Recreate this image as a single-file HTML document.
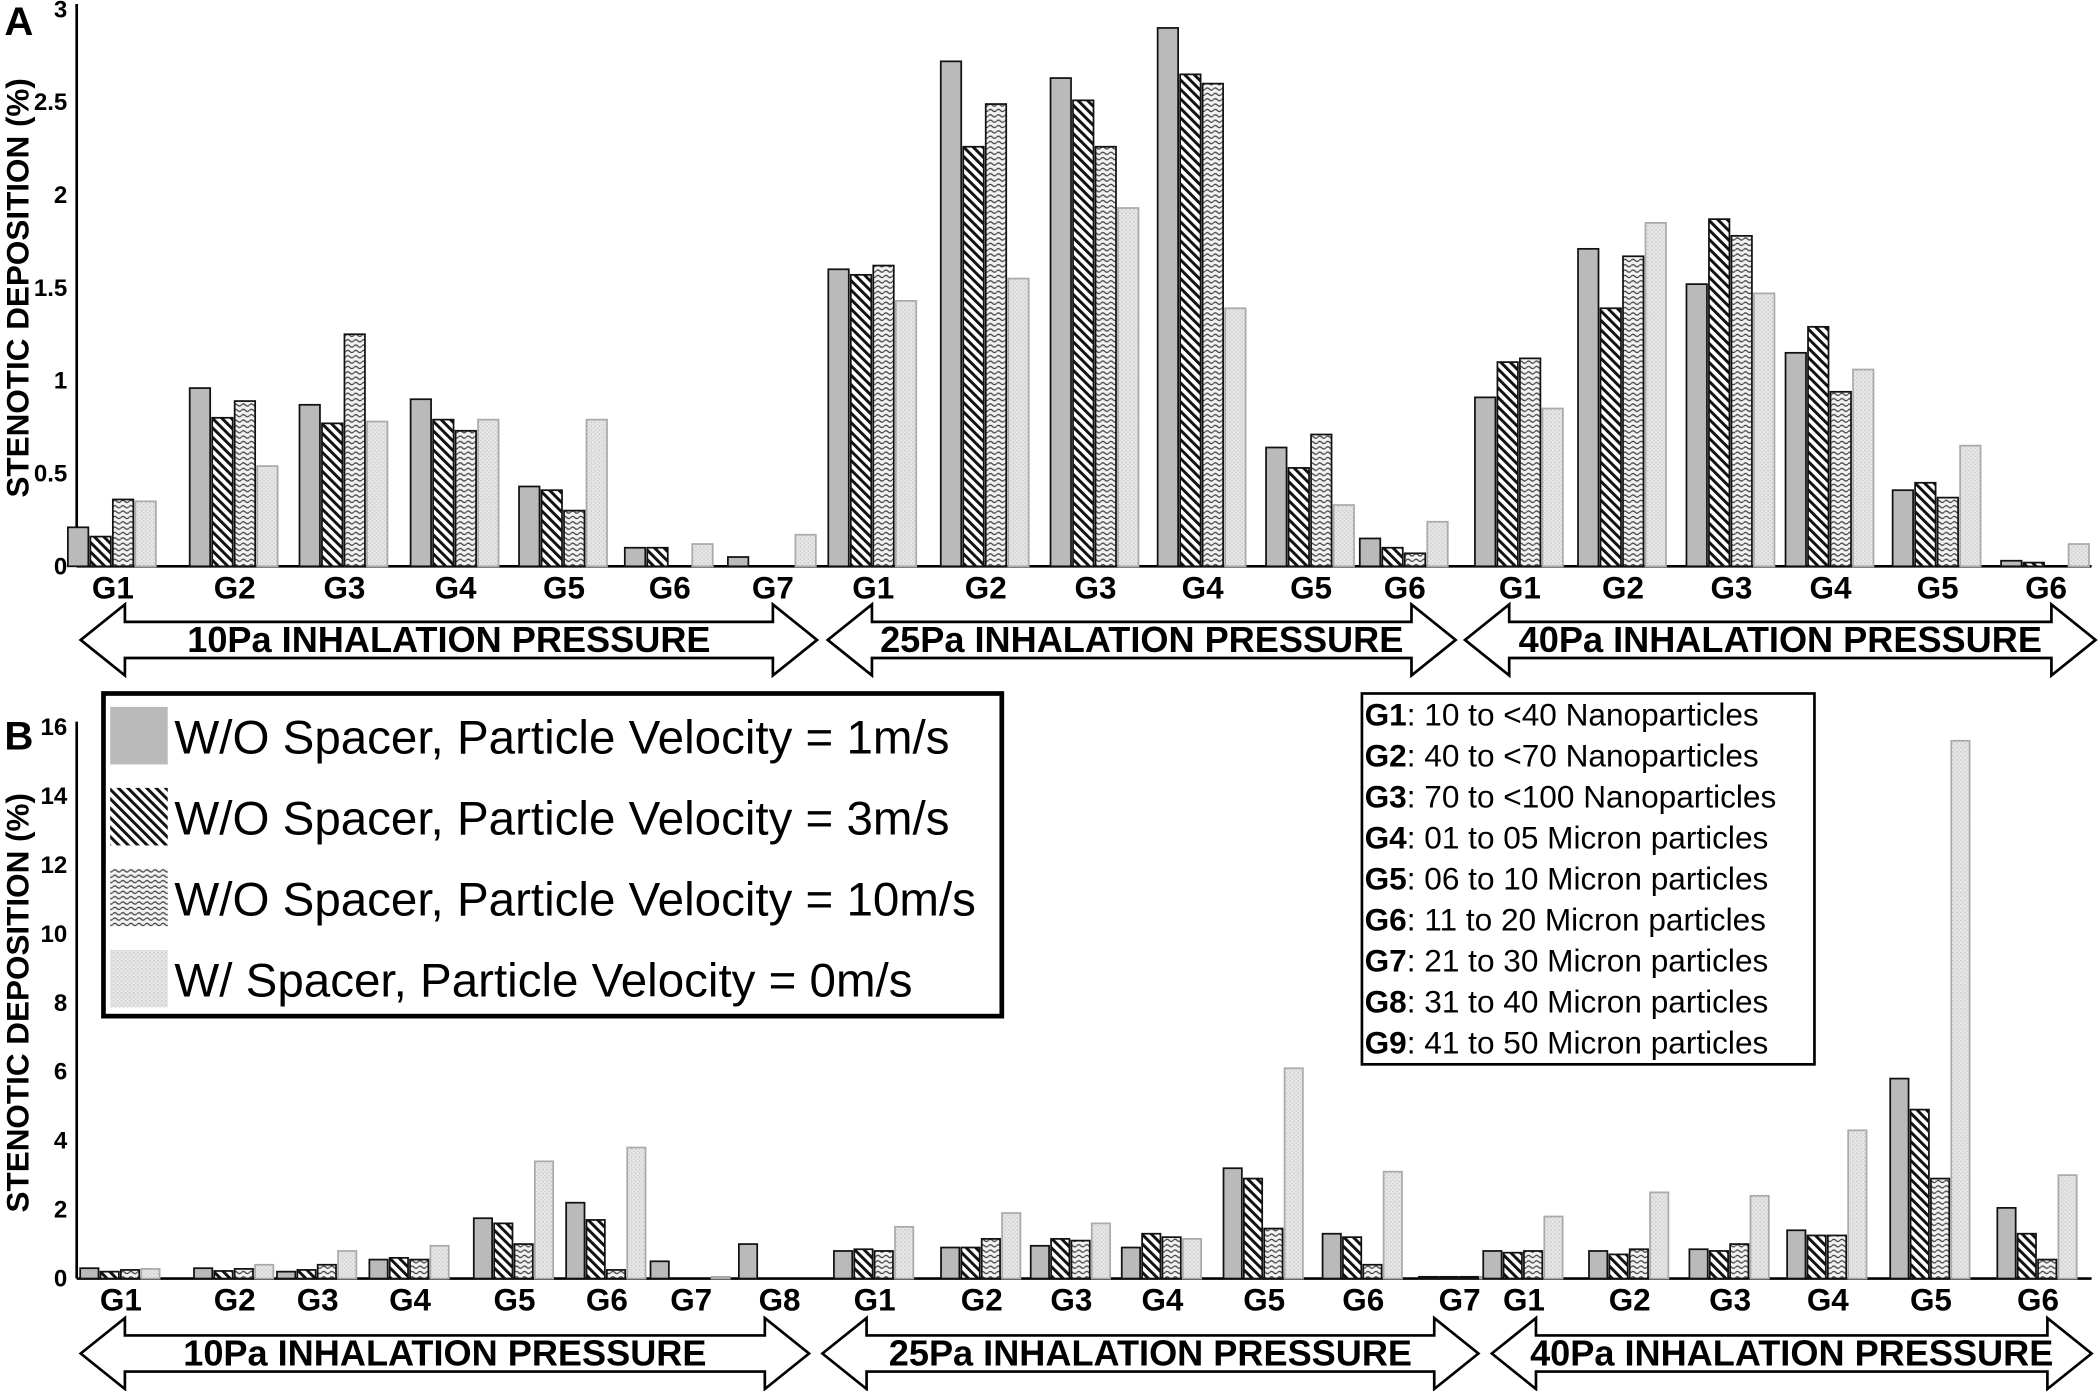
<!DOCTYPE html>
<html><head><meta charset="utf-8"><style>
html,body{margin:0;padding:0;background:#fff}
svg{display:block;font-family:"Liberation Sans",Arial,sans-serif}
</style></head><body>
<svg id="chart" width="2100" height="1391" viewBox="0 0 1568 1039" xmlns="http://www.w3.org/2000/svg">
<defs>
<pattern id="p0" width="4" height="4" patternUnits="userSpaceOnUse"><rect width="4" height="4" fill="#bababa"/></pattern>
<pattern id="p1" width="5" height="5" patternUnits="userSpaceOnUse" patternTransform="rotate(-45)"><rect width="5" height="5" fill="#fff"/><rect width="2.2" height="5" fill="#111"/></pattern>
<pattern id="p2" width="6" height="4" patternUnits="userSpaceOnUse"><rect width="6" height="4" fill="#f2f2f2"/><path d="M0 2.5 Q1.5 0.8 3 2.5 T6 2.5" stroke="#444" stroke-width="1" fill="none"/></pattern>
<pattern id="p3" width="3" height="3" patternUnits="userSpaceOnUse"><rect width="3" height="3" fill="#e6e6e6"/><rect width="1" height="1" fill="#c4c4c4"/><rect x="1.5" y="1.5" width="1" height="1" fill="#cdcdcd"/></pattern>
</defs>
<g id="layer"></g>
</svg>
<script>
// Panel A data
const catsA = ["G1","G2","G3","G4","G5","G6","G7","G1","G2","G3","G4","G5","G6","G1","G2","G3","G4","G5","G6"];
const s1A = [0.21,0.96,0.87,0.90,0.43,0.10,0.05, 1.60,2.72,2.63,2.90,0.64,0.15, 0.91,1.71,1.52,1.15,0.41,0.03];
const s2A = [0.16,0.80,0.77,0.79,0.41,0.10,0.00, 1.57,2.26,2.51,2.65,0.53,0.10, 1.10,1.39,1.87,1.29,0.45,0.02];
const s3A = [0.36,0.89,1.25,0.73,0.30,0.00,0.00, 1.62,2.49,2.26,2.60,0.71,0.07, 1.12,1.67,1.78,0.94,0.37,0.00];
const s4A = [0.35,0.54,0.78,0.79,0.79,0.12,0.17, 1.43,1.55,1.93,1.39,0.33,0.24, 0.85,1.85,1.47,1.06,0.65,0.12];
const ticksA = [0,0.5,1,1.5,2,2.5,3];
const tickLabelsA = ["0","0.5","1","1.5","2","2.5","3"];
// Panel B data
const catsB = ["G1","G2","G3","G4","G5","G6","G7","G8","G1","G2","G3","G4","G5","G6","G7","G1","G2","G3","G4","G5","G6"];
const s1B = [0.30,0.30,0.20,0.55,1.75,2.20,0.50,1.00, 0.80,0.90,0.95,0.90,3.20,1.30,0.05, 0.80,0.80,0.85,1.40,5.80,2.05];
const s2B = [0.20,0.22,0.25,0.60,1.60,1.70,0.00,0.00, 0.85,0.90,1.15,1.30,2.90,1.20,0.05, 0.75,0.70,0.80,1.25,4.90,1.30];
const s3B = [0.25,0.28,0.40,0.55,1.00,0.25,0.00,0.00, 0.80,1.15,1.10,1.20,1.45,0.40,0.05, 0.80,0.85,1.00,1.25,2.90,0.55];
const s4B = [0.28,0.40,0.80,0.95,3.40,3.80,0.05,0.00, 1.50,1.90,1.60,1.15,6.10,3.10,0.05, 1.80,2.50,2.40,4.30,15.6,3.00];
const ticksB = [0,2,4,6,8,10,12,14,16];
const tickLabelsB = ["0","2","4","6","8","10","12","14","16"];
const seriesNames = ["W/O Spacer, Particle Velocity = 1m/s","W/O Spacer, Particle Velocity = 3m/s","W/O Spacer, Particle Velocity = 10m/s","W/ Spacer, Particle Velocity = 0m/s"];
const sizeLegend = ["10 to <40 Nanoparticles","40 to <70 Nanoparticles","70 to <100 Nanoparticles","01 to 05 Micron particles","06 to 10 Micron particles","11 to 20 Micron particles","21 to 30 Micron particles","31 to 40 Micron particles","41 to 50 Micron particles"];

const NS="http://www.w3.org/2000/svg";
const L=document.getElementById('layer');
function mk(t,a,p){const e=document.createElementNS(NS,t);for(const k in a)e.setAttribute(k,a[k]);(p||L).appendChild(e);return e;}

const centersA=[84,175,257,340,421,500,577,652,736,818,898,979,1049,1135,1212,1293,1367,1447,1528];
const centersB=[90,175,237,306,384,453,516,582,653,733,800,868,944,1018,1090,1138,1217,1292,1365,1442,1522];
const fills=["url(#p0)","url(#p1)","url(#p2)","url(#p3)"];
const strokes=["#111","#111","#111","#aaa"];

function panel(opt){
  const yS=v=>opt.y0-(v/opt.max)*(opt.y0-opt.yTop);
  const g=mk('g',{});
  
  
  const ya=mk('line',{x1:57,y1:opt.yTop-4,x2:57,y2:opt.y0,stroke:'#000','stroke-width':2},g);
  
  
  const xa=mk('line',{x1:57,y1:opt.y0,x2:1562,y2:opt.y0,stroke:'#000','stroke-width':2},g);
  
  
  opt.ticks.forEach((t,i)=>{
    const tx=mk('text',{x:50,y:yS(t)+6,'text-anchor':'end','font-size':18,'font-weight':'bold'},g);
    tx.textContent=opt.tickLabels[i];
    
    
  });
  const yt=mk('text',{x:0,y:0,'font-size':23.5,'font-weight':'bold','text-anchor':'middle',transform:`translate(21,${(opt.y0+opt.yTop)/2}) rotate(-90)`},g);
  yt.textContent="STENOTIC DEPOSITION (%)";
  
  
  const ser=[opt.s1,opt.s2,opt.s3,opt.s4];
  opt.cats.forEach((c,i)=>{
    const cx=opt.centers[i];
    ser.forEach((s,k)=>{
      const v=s[i]; if(v<=0) return;
      const x=cx-2*opt.bw+k*opt.bw;
      const r=mk('rect',{x:x,y:yS(v),width:opt.bw-1.5,height:opt.y0-yS(v),fill:fills[k],stroke:strokes[k],'stroke-width':1.3},g);
      
      
    });
    const lb=mk('text',{x:cx,y:opt.y0+24,'text-anchor':'middle','font-size':23.5,'font-weight':'bold'},g);
    lb.textContent=c;
    
    
  });
  opt.arrows.forEach(a=>{
    const [x1,x2]=a; const m=opt.am, h=26.5, s=13.5, hl=33;
    const d=`M${x1} ${m} L${x1+hl} ${m-h} L${x1+hl} ${m-s} L${x2-hl} ${m-s} L${x2-hl} ${m-h} L${x2} ${m} L${x2-hl} ${m+h} L${x2-hl} ${m+s} L${x1+hl} ${m+s} L${x1+hl} ${m+h} Z`;
    const p=mk('path',{d:d,fill:'#fff',stroke:'#000','stroke-width':2},g);
    
    
    const t=mk('text',{x:(x1+x2)/2,y:m+9,'text-anchor':'middle','font-size':27,'font-weight':'bold'},g);
    t.textContent=a[2]+" INHALATION PRESSURE";
    
    
  });
  const pl=mk('text',{x:opt.lx,y:opt.ly,'font-size':30,'font-weight':'bold'},g);
  pl.textContent=opt.letter;
  
  
}
panel({name:'panel-a',y0:423,yTop:7,max:3,ticks:ticksA,tickLabels:tickLabelsA,cats:catsA,centers:centersA,s1:s1A,s2:s2A,s3:s3A,s4:s4A,bw:16.8,am:478,
  arrows:[[60,610,"10Pa"],[618,1087,"25Pa"],[1094,1565,"40Pa"]],letter:'A',lx:3,ly:26});
panel({name:'panel-b',y0:955,yTop:543,max:16,ticks:ticksB,tickLabels:tickLabelsB,cats:catsB,centers:centersB,s1:s1B,s2:s2B,s3:s3B,s4:s4B,bw:15.2,am:1011,
  arrows:[[60,604,"10Pa"],[614,1104,"25Pa"],[1114,1562,"40Pa"]],letter:'B',lx:3,ly:560});

const lg=mk('g',{});


mk('rect',{x:77,y:518,width:671,height:241,fill:'#fff',stroke:'#000','stroke-width':3.5},lg);
seriesNames.forEach((n,k)=>{
  const y=528+k*60.5;
  const sw=mk('rect',{x:82,y:y,width:43,height:43,fill:fills[k]},lg);
  
  
  const t=mk('text',{x:130,y:y+35,'font-size':35.5},lg);
  t.textContent=n;
  
  
});
const sg=mk('g',{});


mk('rect',{x:1017,y:518,width:338,height:277,fill:'#fff',stroke:'#000','stroke-width':2},sg);
sizeLegend.forEach((n,i)=>{
  const t=mk('text',{x:1019,y:542+i*30.6,'font-size':23.6},sg);
  const b=mk('tspan',{'font-weight':'bold'},t); b.textContent='G'+(i+1);
  const r=mk('tspan',{},t); r.textContent=': '+n;
  
  
});
</script>
</body></html>
